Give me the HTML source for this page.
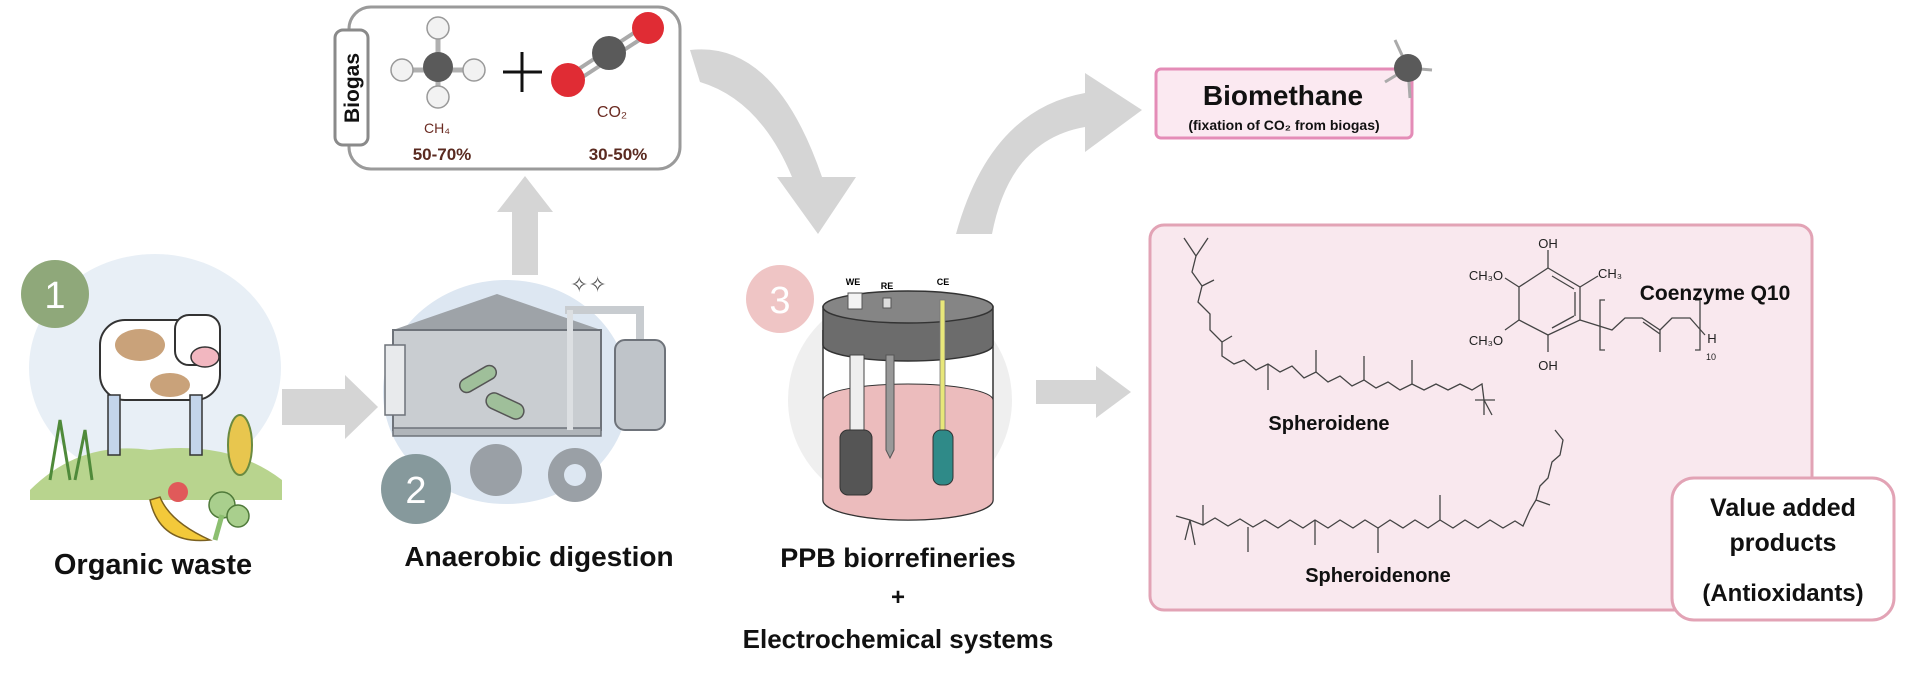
<!DOCTYPE html>
<html><head><meta charset="utf-8"><style>
html,body{margin:0;padding:0;background:#fff;}
svg{display:block;}
text{font-family:"Liberation Sans",sans-serif;}
.b{font-weight:bold;fill:#111;}
</style></head><body>
<svg width="1920" height="673" viewBox="0 0 1920 673" xmlns="http://www.w3.org/2000/svg">
<!-- background circles -->
<ellipse cx="155" cy="368" rx="126" ry="114" fill="#e8eff6"/>
<ellipse cx="506" cy="392" rx="123" ry="112" fill="#dde7f2"/>
<ellipse cx="900" cy="400" rx="112" ry="110" fill="#efefef"/>

<!-- arrows -->
<g fill="#d5d5d5">
  <path d="M282,389 H345 V375 L378,407 L345,439 V425 H282 Z"/>
  <path d="M512,275 V212 H497 L525,176 L553,212 H538 V275 Z"/>
  <path d="M1036,380 H1096 V366 L1131,392 L1096,418 V404 H1036 Z"/>
  <path d="M690,50 Q775,40 822,177 L856,177 L818,234 L777,177 L792,177 Q760,100 700,82 Z"/>
  <path d="M956,234 Q990,110 1085,93 L1085,73 L1142,110 L1085,152 L1085,127 Q1010,140 992,234 Z"/>
</g>

<!-- Biogas box -->
<rect x="349" y="7" width="331" height="162" rx="22" fill="#fff" stroke="#9a9a9a" stroke-width="3"/>
<rect x="335" y="30" width="33" height="115" rx="8" fill="#fff" stroke="#8a8a8a" stroke-width="3"/>
<text class="b" transform="translate(359,88) rotate(-90)" text-anchor="middle" font-size="21">Biogas</text>
<g stroke="#b0b0b0" stroke-width="5">
<line x1="438" y1="30" x2="438" y2="97"/><line x1="403" y1="70" x2="473" y2="70"/>
</g>
<circle cx="438" cy="67" r="15" fill="#5a5a5a"/>
<circle cx="438" cy="28" r="11" fill="#f2f2f2" stroke="#999" stroke-width="1.5"/>
<circle cx="438" cy="97" r="11" fill="#f2f2f2" stroke="#999" stroke-width="1.5"/>
<circle cx="402" cy="70" r="11" fill="#f2f2f2" stroke="#999" stroke-width="1.5"/>
<circle cx="474" cy="70" r="11" fill="#f2f2f2" stroke="#999" stroke-width="1.5"/>
<path d="M503,72 H542 M522,52 V92" stroke="#111" stroke-width="3"/>
<g stroke="#aaa" stroke-width="4"><line x1="568" y1="76" x2="646" y2="25"/><line x1="572" y1="84" x2="650" y2="33"/></g>
<circle cx="609" cy="53" r="17" fill="#5a5a5a"/>
<circle cx="568" cy="80" r="17" fill="#e02c34"/>
<circle cx="648" cy="28" r="16" fill="#e02c34"/>
<text x="437" y="133" text-anchor="middle" font-size="14" fill="#6b2b22">CH₄</text>
<text x="612" y="117" text-anchor="middle" font-size="16" fill="#6b2b22">CO₂</text>
<text x="442" y="160" text-anchor="middle" font-size="17" font-weight="bold" fill="#5a2a20">50-70%</text>
<text x="618" y="160" text-anchor="middle" font-size="17" font-weight="bold" fill="#5a2a20">30-50%</text>

<!-- Step 1 illustration -->
<path d="M30,490 Q80,440 150,450 Q230,440 282,480 L282,500 L30,500 Z" fill="#b8d48e"/>
<rect x="100" y="320" width="120" height="80" rx="25" fill="#fff" stroke="#333" stroke-width="2"/>
<ellipse cx="140" cy="345" rx="25" ry="16" fill="#c9a27a"/>
<ellipse cx="170" cy="385" rx="20" ry="12" fill="#c9a27a"/>
<rect x="108" y="395" width="12" height="60" fill="#c3d4ea" stroke="#333" stroke-width="1.5"/>
<rect x="190" y="395" width="12" height="60" fill="#c3d4ea" stroke="#333" stroke-width="1.5"/>
<rect x="175" y="315" width="45" height="50" rx="14" fill="#fff" stroke="#333" stroke-width="2"/>
<ellipse cx="205" cy="357" rx="14" ry="10" fill="#f2b7c0" stroke="#333" stroke-width="1.5"/>
<ellipse cx="240" cy="445" rx="12" ry="30" fill="#e8c64e" stroke="#6a8a40" stroke-width="2"/>
<path d="M50,480 L60,420 L70,480 M75,480 L85,430 L92,480" stroke="#4f8a3a" stroke-width="3" fill="none"/>
<path d="M150,500 Q160,545 210,540 Q170,522 160,497 Z" fill="#f3c93a" stroke="#7a6020" stroke-width="1.5"/>
<circle cx="178" cy="492" r="10" fill="#e05a5a"/>
<circle cx="222" cy="505" r="13" fill="#a9cf8d" stroke="#4f7a3a" stroke-width="1.5"/>
<circle cx="238" cy="516" r="11" fill="#a9cf8d" stroke="#4f7a3a" stroke-width="1.5"/>
<path d="M222,515 L215,540" stroke="#8cbf70" stroke-width="5"/>
<circle cx="55" cy="294" r="34" fill="#8fa87a"/>
<text x="55" y="308" text-anchor="middle" font-size="38" fill="#fff">1</text>

<!-- Step 2 illustration -->
<path d="M470,470 a26,26 0 1,1 52,0 a26,26 0 1,1 -52,0" fill="#9aa0a6"/>
<circle cx="575" cy="475" r="27" fill="#9aa0a6"/><circle cx="575" cy="475" r="11" fill="#dde7f2"/>
<path d="M393,330 L497,294 L601,330 Z" fill="#9ea3a8"/>
<rect x="393" y="330" width="208" height="100" fill="#c9cdd1" stroke="#6e737a" stroke-width="2"/>
<rect x="393" y="428" width="208" height="8" fill="#b0b5ba" stroke="#6e737a" stroke-width="1.5"/>
<rect x="385" y="345" width="20" height="70" fill="#e8eaec" stroke="#6e737a" stroke-width="1.5"/>
<path d="M565,310 H640 V340" stroke="#c8ccd0" stroke-width="8" fill="none"/>
<path d="M570,310 V430" stroke="#dcdfe2" stroke-width="6"/>
<rect x="615" y="340" width="50" height="90" rx="10" fill="#bfc4c9" stroke="#6e737a" stroke-width="2"/>
<rect x="458" y="372" width="40" height="14" rx="7" transform="rotate(-30 478 379)" fill="#9fbf9a" stroke="#555" stroke-width="1.5"/>
<rect x="485" y="398" width="40" height="16" rx="8" transform="rotate(25 505 406)" fill="#9fbf9a" stroke="#555" stroke-width="1.5"/>
<text x="570" y="292" font-size="22" fill="#555">✧✧</text>
<circle cx="416" cy="489" r="35" fill="#86999c"/>
<text x="416" y="503" text-anchor="middle" font-size="38" fill="#fff">2</text>

<!-- Step 3 beaker -->
<path d="M823,330 V500 A85,20 0 0,0 993,500 V330" fill="#fff" stroke="#333" stroke-width="1.5"/>
<path d="M823,400 V500 A85,20 0 0,0 993,500 V400 A85,16 0 0,0 823,400 Z" fill="#ecbcbd" stroke="#333" stroke-width="1"/>
<path d="M823,307 V345 A85,16 0 0,0 993,345 V307 Z" fill="#6c6c6c" stroke="#333" stroke-width="1.5"/>
<ellipse cx="908" cy="307" rx="85" ry="16" fill="#858585" stroke="#333" stroke-width="1.5"/>
<rect x="850" y="355" width="14" height="80" fill="#eee" stroke="#444" stroke-width="1"/>
<rect x="840" y="430" width="32" height="65" rx="8" fill="#555" stroke="#333"/>
<path d="M886,355 V450 L890,458 L894,450 V355 Z" fill="#999" stroke="#555"/>
<rect x="940" y="300" width="5" height="135" fill="#e8e77a" stroke="#777" stroke-width="0.8"/>
<rect x="933" y="430" width="20" height="55" rx="8" fill="#2f8a88" stroke="#333"/>
<rect x="848" y="293" width="14" height="16" fill="#f3f3f3" stroke="#555"/>
<rect x="883" y="298" width="8" height="10" fill="#ddd" stroke="#555"/>
<text x="853" y="285" text-anchor="middle" font-size="9" font-weight="bold">WE</text>
<text x="887" y="289" text-anchor="middle" font-size="9" font-weight="bold">RE</text>
<text x="943" y="285" text-anchor="middle" font-size="9" font-weight="bold">CE</text>
<circle cx="780" cy="299" r="34" fill="#efc5c5"/>
<text x="780" y="313" text-anchor="middle" font-size="38" fill="#fff">3</text>

<!-- Labels -->
<text class="b" x="153" y="574" text-anchor="middle" font-size="29">Organic waste</text>
<text class="b" x="539" y="566" text-anchor="middle" font-size="28">Anaerobic digestion</text>
<text class="b" x="898" y="567" text-anchor="middle" font-size="27">PPB biorrefineries</text>
<text class="b" x="898" y="605" text-anchor="middle" font-size="24">+</text>
<text class="b" x="898" y="648" text-anchor="middle" font-size="26">Electrochemical systems</text>

<!-- Biomethane -->
<rect x="1156" y="69" width="256" height="69" rx="5" fill="#fbe9f1" stroke="#e48cb7" stroke-width="3"/>
<text class="b" x="1283" y="105" text-anchor="middle" font-size="28">Biomethane</text>
<text class="b" x="1284" y="130" text-anchor="middle" font-size="14">(fixation of CO₂ from biogas)</text>
<g stroke="#aaa" stroke-width="3" fill="none"><path d="M1408,68 L1395,40 M1408,68 L1432,70 M1408,68 L1410,98 M1408,68 L1385,82"/></g>
<circle cx="1408" cy="68" r="14" fill="#5a5a5a"/>

<!-- Products box -->
<rect x="1150" y="225" width="662" height="385" rx="14" fill="#f9e8ee" stroke="#e2a3b5" stroke-width="3"/>
<g stroke="#444" stroke-width="1.3" fill="none">
<polyline points="1184,238 1196,256 1208,238 M1196,256"/>
<polyline points="1196,256 1192,272 1202,286 1198,302 1210,314 1210,330 1222,342 1222,356 1234,364 1244,360 1256,370 1268,364 1280,372 1292,366 1304,378 1316,372 1328,382 1340,376 1352,386 1364,380 1376,388 1388,382 1400,390 1412,384 1424,390 1436,384 1448,390 1460,384 1472,390 1482,384 1484,400 1484,415"/>
<path d="M1202,286 L1214,280 M1222,342 L1232,336 M1268,364 L1268,390 M1316,372 L1316,350 M1364,380 L1364,356 M1412,384 L1412,360 M1475,400 L1495,400 M1484,400 L1492,415"/>
<polyline points="1176,516 1190,520 1203,525 1215,518 1228,526 1240,519 1253,527 1265,520 1278,528 1290,520 1303,528 1315,520 1328,528 1340,520 1353,528 1365,520 1378,528 1390,520 1403,528 1415,520 1428,528 1440,520 1453,528 1465,520 1478,528 1490,520 1503,528 1515,521 1523,526 1530,510 1536,500 1540,486 1548,478 1552,462 1560,455 1563,440 1555,430 M1563,440 L1572,428"/>
<path d="M1190,520 L1185,540 M1190,520 L1195,545 M1203,525 L1203,505 M1248,527 L1248,552 M1315,520 L1315,545 M1378,528 L1378,553 M1440,520 L1440,495 M1536,500 L1550,505"/>
<polygon points="1548,268 1580,287 1580,320 1548,335 1519,320 1519,287"/>
<path d="M1575,292 L1575,316 M1552,276 L1574,289 M1552,328 L1574,316"/>
<path d="M1548,268 V250 M1548,335 V352 M1519,287 L1505,278 M1519,320 L1505,330 M1580,287 L1598,276"/>
<polyline points="1580,320 1612,330 1625,318 1642,318 1660,330 1672,318 1690,318 1705,335"/>
<path d="M1660,330 V352 M1605,300 H1600 V350 H1605 M1695,300 H1700 V350 H1695 M1643,322 L1660,334"/>
</g>
<g font-size="13" fill="#222">
<text x="1548" y="248" text-anchor="middle">OH</text>
<text x="1548" y="370" text-anchor="middle">OH</text>
<text x="1486" y="280" text-anchor="middle">CH₃O</text>
<text x="1486" y="345" text-anchor="middle">CH₃O</text>
<text x="1610" y="278" text-anchor="middle">CH₃</text>
<text x="1712" y="343" text-anchor="middle">H</text>
<text x="1706" y="360" font-size="9">10</text>
</g>
<text class="b" x="1715" y="300" text-anchor="middle" font-size="21">Coenzyme Q10</text>
<text class="b" x="1329" y="430" text-anchor="middle" font-size="20">Spheroidene</text>
<text class="b" x="1378" y="582" text-anchor="middle" font-size="20">Spheroidenone</text>

<!-- Value added -->
<rect x="1672" y="478" width="222" height="142" rx="22" fill="#fff" stroke="#e2a3b5" stroke-width="3"/>
<text class="b" x="1783" y="516" text-anchor="middle" font-size="25">Value added</text>
<text class="b" x="1783" y="551" text-anchor="middle" font-size="25">products</text>
<text class="b" x="1783" y="601" text-anchor="middle" font-size="24">(Antioxidants)</text>
</svg>
</body></html>
